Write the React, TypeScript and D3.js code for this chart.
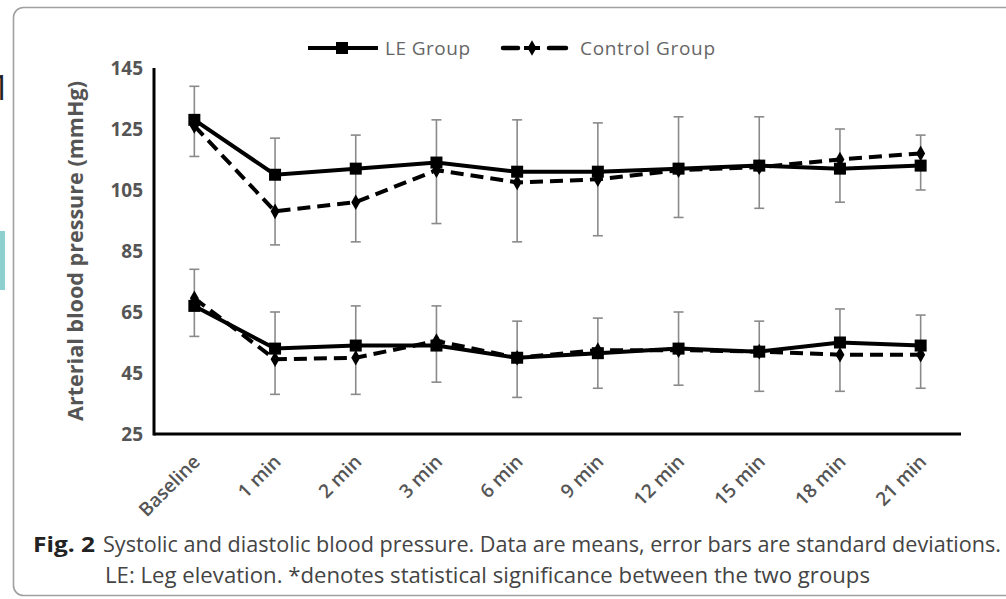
import React from "react";
import * as d3 from "d3";

const width = 1006;
const height = 599;
const margin = { top: 68, right: 45, bottom: 165, left: 154 };

// time points
const categories = ["Baseline", "1 min", "2 min", "3 min", "6 min", "9 min", "12 min", "15 min", "18 min", "21 min"];
// systolic
const leSys = [128, 110, 112, 114, 111, 111, 112, 113, 112, 113];
const ctrlSys = [126, 98, 101, 111.5, 107.5, 108.5, 111.5, 112.5, 115, 117];
const sysErrHigh = [139, 122, 123, 128, 128, 127, 129, 129, 125, 123];
const sysErrLow = [116, 87, 88, 94, 88, 90, 96, 99, 101, 105];
// diastolic
const leDia = [67, 53, 54, 54, 50, 51.5, 53, 52, 55, 54];
const ctrlDia = [69.5, 49.5, 50, 55.5, 50, 52.5, 52.5, 52, 51, 51];
const diaErrHigh = [79, 65, 67, 67, 62, 63, 65, 62, 66, 64];
const diaErrLow = [57, 38, 38, 42, 37, 40, 41, 39, 39, 40];

const yTicks = [25, 45, 65, 85, 105, 125, 145];

const font = "'Open Sans', 'DejaVu Sans', sans-serif";

export default function App() {
  const x = d3.scaleBand<string>().domain(categories).range([margin.left, width - margin.right]).padding(0);
  const y = d3.scaleLinear().domain([25, 145]).range([height - margin.bottom, margin.top]);
  const cx = (i: number) => (x(categories[i]) as number) + x.bandwidth() / 2;

  const line = d3.line<number>().x((d, i) => cx(i)).y(d => y(d));

  const diamond = d3.symbol().type(d3.symbolDiamond).size(70)();

  const errBars = (hi: number[], lo: number[], key: string) =>
    hi.map((h, i) => (
      <g key={key + i} stroke="#8a8a8a" strokeWidth={1.6}>
        <line x1={cx(i)} x2={cx(i)} y1={y(h)} y2={y(lo[i])} />
        <line x1={cx(i) - 5} x2={cx(i) + 5} y1={y(h)} y2={y(h)} />
        <line x1={cx(i) - 5} x2={cx(i) + 5} y1={y(lo[i])} y2={y(lo[i])} />
      </g>
    ));

  const solid = (vals: number[], key: string) => (
    <g key={key}>
      <path d={line(vals) || ""} fill="none" stroke="#000" strokeWidth={4} />
      {vals.map((v, i) => (
        <rect key={i} x={cx(i) - 6} y={y(v) - 6} width={12} height={12} fill="#000" />
      ))}
    </g>
  );

  const dashed = (vals: number[], key: string) => (
    <g key={key}>
      <path d={line(vals) || ""} fill="none" stroke="#000" strokeWidth={4} strokeDasharray="13,7" />
      {vals.map((v, i) => (
        <path key={i} d={diamond || ""} transform={`translate(${cx(i)},${y(v)})`} fill="#000" />
      ))}
    </g>
  );

  return (
    <svg width={width} height={height} style={{ position: "absolute", left: 0, top: 0, background: "#fff" }}>
      {/* page leftovers at the left edge */}
      <text x={-9} y={100} fontFamily={font} fontSize={34} fill="#222">1</text>
      <rect x={0} y={231} width={5} height={59} fill="#8ecfcf" />
      {/* frame */}
      <rect x={13.5} y={7.5} width={1030} height={588} rx={10} fill="none" stroke="#a0a0a0" strokeWidth={1.6} />

      {/* legend */}
      <g>
        <line x1={308} x2={378} y1={48} y2={48} stroke="#000" strokeWidth={4} />
        <rect x={336} y={42} width={12} height={12} fill="#000" />
        <text x={385} y={55} fontFamily={font} fontSize={19} fill="#666" textLength={85}>LE Group</text>
        <line x1={503} x2={518} y1={48} y2={48} stroke="#000" strokeWidth={4.5} strokeLinecap="round" />
        <line x1={524} x2={540} y1={48} y2={48} stroke="#000" strokeWidth={4} />
        <path d={diamond || ""} transform="translate(532,48)" fill="#000" />
        <line x1={549} x2={566} y1={48} y2={48} stroke="#000" strokeWidth={4.5} strokeLinecap="round" />
        <text x={580} y={55} fontFamily={font} fontSize={19} fill="#666" textLength={135}>Control Group</text>
      </g>

      {/* error bars */}
      {errBars(sysErrHigh, sysErrLow, "s")}
      {errBars(diaErrHigh, diaErrLow, "d")}

      {/* series */}
      {dashed(ctrlSys, "cs")}
      {dashed(ctrlDia, "cd")}
      {solid(leSys, "ls")}
      {solid(leDia, "ld")}

      {/* axes */}
      <line x1={margin.left} x2={margin.left} y1={y(145)} y2={y(25) + 1.5} stroke="#000" strokeWidth={3} />
      <line x1={margin.left} x2={width - margin.right} y1={y(25)} y2={y(25)} stroke="#000" strokeWidth={3} />

      {yTicks.map(t => (
        <text key={t} x={143} y={y(t)} dy="0.36em" textAnchor="end" fontFamily={font} fontSize={19} fontWeight={700} fill="#555">
          {t}
        </text>
      ))}

      {categories.map((c, i) => (
        <text key={c} transform={`translate(${cx(i) + 7},${463}) rotate(-45)`} textAnchor="end"
          fontFamily={font} fontSize={19} fontWeight={600} fill="#555">
          {c}
        </text>
      ))}

      <text transform={`translate(83,251) rotate(-90)`} textAnchor="middle" fontFamily={font} fontSize={21}
        fontWeight={700} fill="#555" textLength={340} lengthAdjust="spacingAndGlyphs">
        Arterial blood pressure (mmHg)
      </text>

      {/* caption */}
      <text x={33} y={552} fontFamily={font} fontSize={22} fontWeight={700} fill="#222" textLength={62} lengthAdjust="spacingAndGlyphs">Fig. 2</text>
      <text x={103} y={552} fontFamily={font} fontSize={22} fill="#444" textLength={898} lengthAdjust="spacingAndGlyphs">
        Systolic and diastolic blood pressure. Data are means, error bars are standard deviations.
      </text>
      <text x={105} y={583} fontFamily={font} fontSize={22} fill="#444" textLength={765} lengthAdjust="spacingAndGlyphs">
        LE: Leg elevation. *denotes statistical significance  between the two groups
      </text>
    </svg>
  );
}
